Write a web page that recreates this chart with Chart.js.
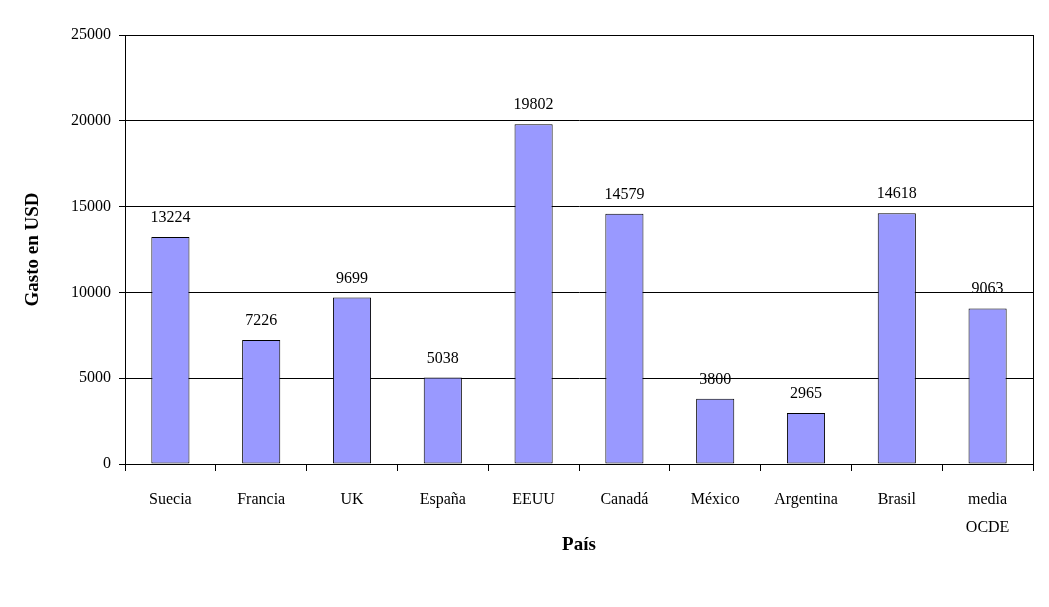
<!DOCTYPE html>
<html>
<head>
<meta charset="utf-8">
<script src="https://cdn.jsdelivr.net/npm/chart.js@4/dist/chart.umd.min.js"></script>
<style>
  html, body { margin: 0; padding: 0; background: #fff; }
  #wrap { width: 1049px; height: 607px; }
</style>
</head>
<body>
<div id="wrap"><canvas id="myChart" width="1049" height="607"></canvas></div>
<script>
// paises
var paises = ['Suecia', 'Francia', 'UK', 'España', 'EEUU', 'Canadá', 'México', 'Argentina', 'Brasil', ['media', 'OCDE']];
// gasto en USD
var gasto = [13224, 7226, 9699, 5038, 19802, 14579, 3800, 2965, 14618, 9063];
var ticksY = [0, 5000, 10000, 15000, 20000, 25000];

var fuente = "'Liberation Serif', 'DejaVu Serif', serif";

// etiquetas encima de las barras + marco del area
var etiquetas = {
    id: 'etiquetas',
    afterDatasetsDraw: function (chart) {
        var ctx = chart.ctx;
        var meta = chart.getDatasetMeta(0);
        ctx.save();
        ctx.fillStyle = '#000';
        ctx.font = '16px ' + fuente;
        ctx.textAlign = 'center';
        ctx.textBaseline = 'alphabetic';
        meta.data.forEach(function (bar, i) {
            ctx.fillText(String(gasto[i]), bar.x, bar.y - 15);
        });
        var a = chart.chartArea;
        ctx.strokeStyle = '#000';
        ctx.lineWidth = 1;
        ctx.strokeRect(Math.round(a.left) + 0.5, Math.round(a.top) + 0.5, Math.round(a.right - a.left), Math.round(a.bottom - a.top));
        ctx.restore();
    }
};

var configChart = {
    type: 'bar',
    data: {
        labels: paises,
        datasets: [{
            data: gasto,
            backgroundColor: '#9999ff',
            borderColor: '#000',
            borderWidth: 1,
            borderSkipped: false,
            barPercentage: 0.42,
            categoryPercentage: 1
        }]
    },
    options: {
        responsive: false,
        animation: false,
        layout: { padding: { left: 0, right: 16, top: 35, bottom: 48 } },
        plugins: {
            legend: { display: false },
            tooltip: { enabled: false }
        },
        scales: {
            x: {
                afterFit: function (s) { s.height = 95; },
                grid: {
                    offset: true,
                    drawOnChartArea: false,
                    color: '#000',
                    tickLength: 7,
                    tickColor: '#000'
                },
                border: { color: '#000' },
                ticks: {
                    color: '#000',
                    font: { family: fuente, size: 16, lineHeight: 1.75 },
                    padding: 15,
                    maxRotation: 0
                },
                title: {
                    display: true,
                    text: 'País',
                    color: '#000',
                    font: { family: fuente, size: 19, weight: 'bold' },
                    padding: { top: 0, bottom: 3 }
                }
            },
            y: {
                min: 0,
                max: 25000,
                afterFit: function (s) { s.width = 125; },
                afterBuildTicks: function (s) { s.ticks = ticksY.map(function (v) { return { value: v }; }); },
                grid: {
                    color: '#000',
                    tickLength: 6,
                    tickColor: '#000'
                },
                border: { color: '#000' },
                ticks: {
                    color: '#000',
                    font: { family: fuente, size: 16 },
                    padding: 8,
                    callback: function (v) { return String(v); }
                },
                title: {
                    display: true,
                    text: 'Gasto en USD',
                    color: '#000',
                    font: { family: fuente, size: 19, weight: 'bold' },
                    padding: { top: 22, bottom: 0 }
                }
            }
        }
    },
    plugins: [etiquetas]
};

window.onload = () => {
    const myChart = document.querySelector('#myChart').getContext('2d');
    var graphicsChart = new Chart(myChart, configChart);
};
</script>
</body>
</html>
